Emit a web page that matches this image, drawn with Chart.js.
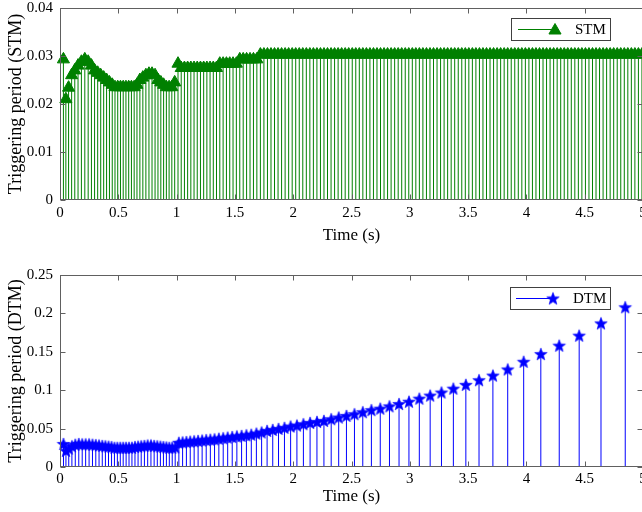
<!DOCTYPE html>
<html><head><meta charset="utf-8">
<script src="https://cdn.jsdelivr.net/npm/chart.js@4.4.1/dist/chart.umd.min.js"></script>
<style>
html,body{margin:0;padding:0;background:#fff;overflow:hidden;width:642px;height:512px;}
canvas{position:absolute;left:0;}
#top{top:0;}
#bot{top:250px;}
</style></head><body>
<canvas id="top" width="660" height="250"></canvas>
<canvas id="bot" width="660" height="262"></canvas>
<script>
// ---- data ----
const xTicks = [0, 0.5, 1, 1.5, 2, 2.5, 3, 3.5, 4, 4.5, 5];
const xTickLabels = ['0', '0.5', '1', '1.5', '2', '2.5', '3', '3.5', '4', '4.5', '5'];
const stmYTicks = [0, 0.01, 0.02, 0.03, 0.04];
const stmYTickLabels = ['0', '0.01', '0.02', '0.03', '0.04'];
const dtmYTicks = [0, 0.05, 0.1, 0.15, 0.2, 0.25];
const dtmYTickLabels = ['0', '0.05', '0.1', '0.15', '0.2', '0.25'];

// inter-event (triggering) periods, in order; each stem sits at the event time it ends on
const stmPeriods = [
  0.0293, 0.0210, 0.0234, 0.0260, 0.0270, 0.0280, 0.0288, 0.0293, 0.0288, 0.0280,
  0.0270, 0.0265, 0.0260, 0.0255, 0.0250, 0.0245, 0.0240, 0.0235, 0.0235, 0.0235,
  0.0235, 0.0235, 0.0235, 0.0235, 0.0235, 0.0240, 0.0250, 0.0255, 0.0260, 0.0263,
  0.0263, 0.0260, 0.0250, 0.0245, 0.0240, 0.0235, 0.0235, 0.0235, 0.0245, 0.0284,
  0.0275, 0.0275, 0.0275, 0.0275, 0.0275, 0.0275, 0.0275, 0.0275, 0.0275, 0.0275,
  0.0275, 0.0275, 0.0284, 0.0284, 0.0284, 0.0284, 0.0284, 0.0284, 0.0293, 0.0293,
  0.0293, 0.0293, 0.0293, 0.0293, 0.0303, 0.0303, 0.0303, 0.0303, 0.0303, 0.0303,
  0.0303, 0.0303, 0.0303, 0.0303, 0.0303, 0.0303, 0.0303, 0.0303, 0.0303, 0.0303,
  0.0303, 0.0303, 0.0303, 0.0303, 0.0303, 0.0303, 0.0303, 0.0303, 0.0303, 0.0303,
  0.0303, 0.0303, 0.0303, 0.0303, 0.0303, 0.0303, 0.0303, 0.0303, 0.0303, 0.0303,
  0.0303, 0.0303, 0.0303, 0.0303, 0.0303, 0.0303, 0.0303, 0.0303, 0.0303, 0.0303,
  0.0303, 0.0303, 0.0303, 0.0303, 0.0303, 0.0303, 0.0303, 0.0303, 0.0303, 0.0303,
  0.0303, 0.0303, 0.0303, 0.0303, 0.0303, 0.0303, 0.0303, 0.0303, 0.0303, 0.0303,
  0.0303, 0.0303, 0.0303, 0.0303, 0.0303, 0.0303, 0.0303, 0.0303, 0.0303, 0.0303,
  0.0303, 0.0303, 0.0303, 0.0303, 0.0303, 0.0303, 0.0303, 0.0303, 0.0303, 0.0303,
  0.0303, 0.0303, 0.0303, 0.0303, 0.0303, 0.0303, 0.0303, 0.0303, 0.0303, 0.0303,
  0.0303, 0.0303, 0.0303, 0.0303, 0.0303, 0.0303, 0.0303, 0.0303, 0.0303, 0.0303,
  0.0303, 0.0303, 0.0303
];

const dtmPeriods = [
  0.030, 0.021, 0.024, 0.027, 0.029, 0.030, 0.0295, 0.0295, 0.0295, 0.029,
  0.0285, 0.028, 0.0275, 0.027, 0.0265, 0.026, 0.025, 0.025, 0.025, 0.025,
  0.025, 0.025, 0.025, 0.026, 0.0265, 0.027, 0.0275, 0.028, 0.028, 0.0275,
  0.027, 0.0265, 0.026, 0.0255, 0.025, 0.025, 0.0255, 0.0315, 0.032, 0.0325,
  0.033, 0.0335, 0.034, 0.0345, 0.035, 0.0355, 0.036, 0.0368, 0.0375, 0.0383,
  0.039, 0.0398, 0.0405, 0.0413, 0.042, 0.0435, 0.045, 0.047, 0.0483, 0.0496,
  0.051, 0.0527, 0.054, 0.0557, 0.0574, 0.0587, 0.060, 0.0622, 0.0644, 0.0665,
  0.0687, 0.0713, 0.074, 0.076, 0.079, 0.082, 0.085, 0.089, 0.093, 0.097,
  0.102, 0.107, 0.113, 0.119, 0.127, 0.137, 0.147, 0.158, 0.171, 0.187, 0.208
];

// ---- helpers ----
const FONT = "'Liberation Serif', 'Times New Roman', serif";
const GREEN = '#008000';
const BLUE = '#0000ff';

function eventTimes(periods) {
  const t = []; let s = 0;
  for (const p of periods) { s += p; t.push(s); }
  return t;
}
function stemData(periods) {
  const ts = eventTimes(periods); const d = [];
  ts.forEach((t, i) => { d.push({x: t, y: 0}, {x: t, y: periods[i]}, {x: t, y: null}); });
  return d;
}
function markerData(periods) {
  const ts = eventTimes(periods);
  return ts.map((t, i) => ({x: t, y: periods[i]}));
}
function starImage(R, color) {
  const c = document.createElement('canvas');
  const s = Math.ceil(R * 2 + 2);
  c.width = c.height = s;
  const g = c.getContext('2d');
  const cx = s / 2, cy = s / 2 + 0.5;
  g.beginPath();
  for (let i = 0; i < 10; i++) {
    const r = (i % 2) ? R * 0.42 : R;
    const a = -Math.PI / 2 + i * Math.PI / 5;
    g.lineTo(cx + r * Math.cos(a), cy + r * Math.sin(a));
  }
  g.closePath();
  g.fillStyle = color; g.fill();
  g.strokeStyle = color; g.lineWidth = 0.6; g.stroke();
  return c;
}
const STAR = starImage(6.6, BLUE);

const framePlugin = {
  id: 'frame',
  afterDatasetsDraw(chart) {
    const {ctx, chartArea: a, scales: {x, y}} = chart;
    const L = Math.round(a.left) + 0.5, R = Math.round(a.right) - 0.5;
    const T = Math.round(a.top) + 0.5, B = Math.round(a.bottom) - 0.5;
    const tl = 5;
    ctx.save();
    ctx.strokeStyle = '#606060'; ctx.lineWidth = 1;
    ctx.strokeRect(L, T, R - L, B - T);
    ctx.beginPath();
    x.ticks.forEach(t => {
      const px = Math.round(x.getPixelForValue(t.value)) + 0.5;
      ctx.moveTo(px, B); ctx.lineTo(px, B - tl);
      ctx.moveTo(px, T); ctx.lineTo(px, T + tl);
    });
    y.ticks.forEach(t => {
      const py = Math.round(y.getPixelForValue(t.value)) + 0.5;
      ctx.moveTo(L, py); ctx.lineTo(L + tl, py);
      ctx.moveTo(R, py); ctx.lineTo(R - tl, py);
    });
    ctx.stroke();
    ctx.restore();
  }
};

function legendPlugin(opt) {
  return {
    id: 'boxlegend',
    afterDraw(chart) {
      const ctx = chart.ctx;
      ctx.save();
      ctx.fillStyle = '#fff';
      ctx.fillRect(opt.bx, opt.by, opt.bw, opt.bh);
      ctx.strokeStyle = '#404040'; ctx.lineWidth = 1;
      ctx.strokeRect(opt.bx, opt.by, opt.bw, opt.bh);
      const cy = opt.by + opt.bh / 2;
      ctx.strokeStyle = opt.color; ctx.fillStyle = opt.color; ctx.lineWidth = 1;
      ctx.beginPath(); ctx.moveTo(opt.lx1, cy); ctx.lineTo(opt.lx2, cy); ctx.stroke();
      if (opt.star) {
        ctx.drawImage(STAR, opt.mx - STAR.width / 2, cy - STAR.height / 2);
      } else {
        Chart.helpers.drawPoint(ctx, {pointStyle: 'triangle', radius: 7, borderWidth: 1}, opt.mx, cy + 1);
      }
      ctx.fillStyle = '#000';
      ctx.font = '15px ' + FONT;
      ctx.textBaseline = 'middle'; ctx.textAlign = 'left';
      ctx.fillText(opt.text, opt.tx, cy + 1);
      ctx.restore();
    }
  };
}

function makeChart(id, o) {
  const ctx = document.getElementById(id);
  return new Chart(ctx, {
    type: 'line',
    data: {
      datasets: [
        {
          data: stemData(o.periods), borderColor: o.stemColor, borderWidth: 1,
          pointRadius: 0, spanGaps: false, tension: 0, order: 2
        },
        {
          type: 'scatter', data: markerData(o.periods), showLine: false, clip: false,
          pointStyle: o.pointStyle, pointRadius: o.pointRadius,
          backgroundColor: o.color, borderColor: o.color, borderWidth: o.pointBorder, order: 1
        }
      ]
    },
    options: {
      responsive: false, animation: false, devicePixelRatio: 1,
      layout: {autoPadding: false, padding: {top: o.padTop, right: 17, left: 0, bottom: 0}},
      plugins: {legend: {display: false}, tooltip: {enabled: false}},
      elements: {point: {hoverRadius: o.pointRadius}},
      scales: {
        x: {
          type: 'linear', min: 0, max: 5,
          afterBuildTicks: s => { s.ticks = xTicks.map(v => ({value: v})); },
          afterFit: s => { s.height = o.xAxisH; s.paddingLeft = 0; s.paddingRight = 0; s.paddingTop = 0; s.paddingBottom = 0; },
          grid: {display: false, drawTicks: false, tickLength: 0}, border: {display: false},
          ticks: {
            padding: o.xTickPad, color: '#000', font: {family: FONT, size: 15},
            autoSkip: false, maxRotation: 0, callback: (v, i) => xTickLabels[i]
          },
          title: {display: true, text: 'Time (s)', color: '#000',
            font: {family: FONT, size: 17}, padding: {top: 0, bottom: o.xTitlePad}}
        },
        y: {
          type: 'linear', min: 0, max: o.yMax,
          afterBuildTicks: s => { s.ticks = o.yTicks.map(v => ({value: v})); },
          afterFit: s => { s.width = 60; s.paddingTop = 0; s.paddingBottom = 0; s.paddingLeft = 0; s.paddingRight = 0; },
          grid: {display: false, drawTicks: false, tickLength: 0}, border: {display: false},
          ticks: {
            padding: 7, color: '#000', font: {family: FONT, size: 15},
            autoSkip: false, callback: (v, i) => o.yTickLabels[i]
          },
          title: {display: true, text: o.yTitle, color: '#000',
            font: {family: FONT, size: 18}, padding: {top: 5, bottom: 0}}
        }
      }
    },
    plugins: [framePlugin, legendPlugin(o.legend)]
  });
}

makeChart('top', {
  periods: stmPeriods, color: GREEN, stemColor: GREEN,
  pointStyle: 'triangle', pointRadius: 7, pointBorder: 1,
  padTop: 8, xAxisH: 50, xTickPad: 4, xTitlePad: 4,
  yMax: 0.04, yTicks: stmYTicks, yTickLabels: stmYTickLabels,
  yTitle: 'Triggering period (STM)',
  legend: {bx: 511.5, by: 18.5, bw: 99, bh: 22, lx1: 518, lx2: 554, mx: 555, tx: 575, text: 'STM', color: GREEN, star: false}
});

makeChart('bot', {
  periods: dtmPeriods, color: BLUE, stemColor: BLUE,
  pointStyle: STAR, pointRadius: 7, pointBorder: 0,
  padTop: 25, xAxisH: 45, xTickPad: 3, xTitlePad: 5,
  yMax: 0.25, yTicks: dtmYTicks, yTickLabels: dtmYTickLabels,
  yTitle: 'Triggering period (DTM)',
  legend: {bx: 510.5, by: 37.5, bw: 100, bh: 22, lx1: 516, lx2: 552, mx: 553, tx: 573, text: 'DTM', color: BLUE, star: true}
});
</script>
</body></html>
